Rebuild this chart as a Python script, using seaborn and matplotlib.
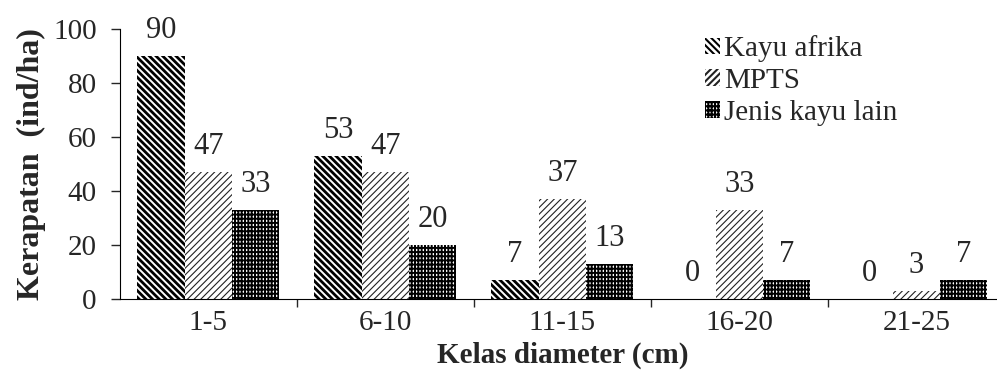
import pandas as pd
import seaborn as sns
import matplotlib.pyplot as plt
from matplotlib.ticker import FixedLocator

# Data
kelas = ['1-5', '6-10', '11-15', '16-20', '21-25']
jenis = ['Kayu afrika', 'MPTS', 'Jenis kayu lain']
kayu_afrika = [90, 53, 7, 0, 0]
mpts = [47, 47, 37, 33, 3]
kayu_lain = [33, 20, 13, 7, 7]

df = pd.DataFrame({
    'kelas': kelas * 3,
    'jenis': [jenis[0]] * 5 + [jenis[1]] * 5 + [jenis[2]] * 5,
    'nilai': kayu_afrika + mpts + kayu_lain,
})

sns.set_style('ticks')
plt.rcParams['font.family'] = ['Liberation Serif', 'DejaVu Serif']
plt.rcParams['hatch.linewidth'] = 1.5

fig = plt.figure(figsize=(9.97, 3.72), dpi=100)
ax = fig.add_axes([0.12, 0.196, 0.888, 0.726])

sns.barplot(data=df, x='kelas', y='nilai', hue='jenis', order=kelas,
            hue_order=jenis, width=0.8, palette=['white'] * 3,
            legend=False, ax=ax)

# hatch, colour, hatch line width per series
styles = [('\\\\\\\\\\', 'black', 2.0), ('/////', '#222222', 0.8), ('++++|', 'black', 1.4)]
for cont, (h, c, hl) in zip(ax.containers, styles):
    for bar in cont:
        bar.set_hatch(h)
        bar.set_edgecolor(c)
        bar.set_linewidth(0)
        if hasattr(bar, 'set_hatch_linewidth'):
            bar.set_hatch_linewidth(hl)
    ax.bar_label(cont, fmt='%d', padding=8, fontsize=22, clip_on=False)

ax.set_ylim(0, 100)
ax.set_xlim(-0.5, 4.5)
ax.set_yticks([0, 20, 40, 60, 80, 100])
ax.tick_params(axis='y', labelsize=21, length=6.5, width=1, direction='out', pad=10)
ax.tick_params(axis='x', which='major', labelsize=21, length=0, pad=8)
ax.xaxis.set_minor_locator(FixedLocator([0.5, 1.5, 2.5, 3.5]))
ax.tick_params(axis='x', which='minor', length=6, width=1, direction='out')

sns.despine(ax=ax)
ax.spines['left'].set_color('black')
ax.spines['bottom'].set_color('black')

ax.set_xlabel('Kelas diameter (cm)', fontsize=21, fontweight='bold', labelpad=4)
ax.set_ylabel('Kerapatan  (ind/ha)', fontsize=23, fontweight='bold', labelpad=5)

ax.legend(ax.containers, jenis, loc='upper left', bbox_to_anchor=(0.648, 1.02),
          frameon=False, fontsize=21, handlelength=0.5, handleheight=0.5,
          handletextpad=0.15, labelspacing=0.2, borderaxespad=0)

fig.savefig('out.png', dpi=100)
